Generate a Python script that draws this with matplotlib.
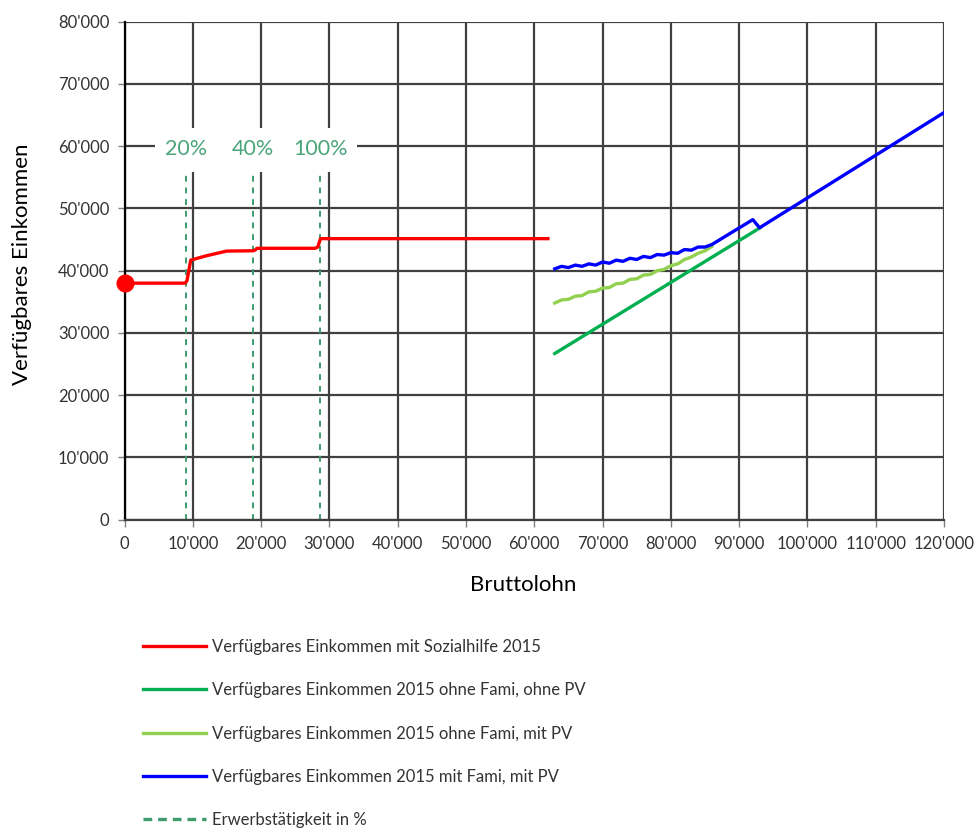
import matplotlib
matplotlib.use("Agg")
import matplotlib.pyplot as plt
from matplotlib.patches import Rectangle
from matplotlib.lines import Line2D

plt.rcParams['font.family'] = ['Lato', 'DejaVu Sans']

# ---- data ----
red_x = [0, 8900, 9150, 9700, 12000, 14950, 18800, 19100, 19400, 27900, 28300, 28700, 62000]
red_y = [38000, 38000, 38400, 41700, 42400, 43150, 43200, 43300, 43600, 43600, 43800, 45150, 45150]

green_x = [63000, 93000]
green_y = [26700, 46850]

lgreen_x = [63000, 64000, 65000, 66000, 67000, 68000, 69000, 70000, 71000, 72000, 73000, 74000,
            75000, 76000, 77000, 78000, 79000, 80000, 81000, 82000, 83000, 84000, 85000, 86000]
lgreen_y = [34800, 35300, 35400, 35900, 36000, 36600, 36700, 37200, 37300, 37900, 38000, 38600,
            38700, 39300, 39400, 40000, 40200, 40800, 41100, 41800, 42200, 42800, 43200, 43900]

blue_x = [63000, 64000, 65000, 66000, 67000, 68000, 69000, 70000, 71000, 72000, 73000, 74000,
          75000, 76000, 77000, 78000, 79000, 80000, 81000, 82000, 83000, 84000, 85000, 86000,
          92000, 93000, 120000]
blue_y = [40300, 40700, 40500, 40900, 40700, 41100, 40900, 41400, 41200, 41700, 41500, 42000,
          41800, 42300, 42100, 42600, 42500, 42900, 42800, 43400, 43300, 43800, 43800, 44200,
          48200, 46900, 65400]

start_x = [0]
start_y = [38000]

emp_x = [8950, 18750, 28600]
emp_labels = ["20%", "40%", "100%"]

xticks = [0, 10000, 20000, 30000, 40000, 50000, 60000, 70000, 80000, 90000, 100000, 110000, 120000]
xticklabels = ["0", "10'000", "20'000", "30'000", "40'000", "50'000", "60'000", "70'000",
               "80'000", "90'000", "100'000", "110'000", "120'000"]
yticks = [0, 10000, 20000, 30000, 40000, 50000, 60000, 70000, 80000]
yticklabels = ["0", "10'000", "20'000", "30'000", "40'000", "50'000", "60'000", "70'000", "80'000"]

legend_labels = ["Verfügbares Einkommen mit Sozialhilfe 2015",
                 "Verfügbares Einkommen 2015 ohne Fami, ohne PV",
                 "Verfügbares Einkommen 2015 ohne Fami, mit PV",
                 "Verfügbares Einkommen 2015 mit Fami, mit PV",
                 "Erwerbstätigkeit in %"]

# ---- plot ----
fig = plt.figure(figsize=(9.75, 8.3), dpi=100)
ax = fig.add_axes([124.5/975, 1-519.7/830, (944-124.5)/975, (519.7-21.7)/830])

ax.set_xlim(0, 120000)
ax.set_ylim(0, 80000)
ax.set_xticks(xticks)
ax.set_xticklabels(xticklabels)
ax.set_yticks(yticks)
ax.set_yticklabels(yticklabels)
ax.grid(True, color='#404040', linewidth=1.6, zorder=0)
ax.set_axisbelow(True)
for s in ['top', 'right']:
    ax.spines[s].set_visible(False)
ax.spines['left'].set_color('black')
ax.spines['left'].set_linewidth(1.6)
ax.spines['bottom'].set_color('#404040')
ax.spines['bottom'].set_linewidth(1.6)
ax.tick_params(axis='both', direction='out', length=5, width=1, color='#808080',
               labelsize=12, labelcolor='#333333')
ax.tick_params(axis='x', pad=7)
ax.tick_params(axis='y', pad=6)

fig.text(523/975, 1-585/830, "Bruttolohn", fontsize=16, ha='center', va='center', color='black')
fig.text(22/975, 1-264/830, "Verfügbares Einkommen", fontsize=16, ha='center', va='center',
         rotation=90, color='black')

# white box behind percentage labels
ax.add_patch(Rectangle((4500, 55900), 29600, 7000, facecolor='white', edgecolor='none', zorder=1.5))

dash_color = '#3d9b6c'
for xv, lab in zip(emp_x, emp_labels):
    ax.plot([xv, xv], [0, 55900], color=dash_color, linestyle=(0, (3, 3)), linewidth=1.4, zorder=2)
    ax.text(xv + 100, 59500, lab, color='#4aa57a', fontsize=15.5, ha='center', va='center', zorder=3)

l_red, = ax.plot(red_x, red_y, color='#ff0000', linewidth=2.4, zorder=4)
ax.plot(start_x, start_y, 'o', color='#ff0000', markersize=12, clip_on=False, zorder=6)
l_green, = ax.plot(green_x, green_y, color='#00b050', linewidth=2.4, zorder=4)
l_lgreen, = ax.plot(lgreen_x, lgreen_y, color='#92d050', linewidth=2.4, zorder=4)
l_blue, = ax.plot(blue_x, blue_y, color='#0000ff', linewidth=2.4, zorder=5)

h_dash = Line2D([0], [0], color=dash_color, linestyle=(0, (2.6, 1.8)), linewidth=2.4)
leg = fig.legend([l_red, l_green, l_lgreen, l_blue, h_dash], legend_labels,
                 loc='upper left', bbox_to_anchor=(143/975, 1-639/830), frameon=False,
                 fontsize=12, handlelength=3.8, handletextpad=0.35, labelspacing=1.64,
                 borderpad=0, borderaxespad=0)
for t in leg.get_texts():
    t.set_color('#333333')

fig.savefig("out.png", dpi=100)
